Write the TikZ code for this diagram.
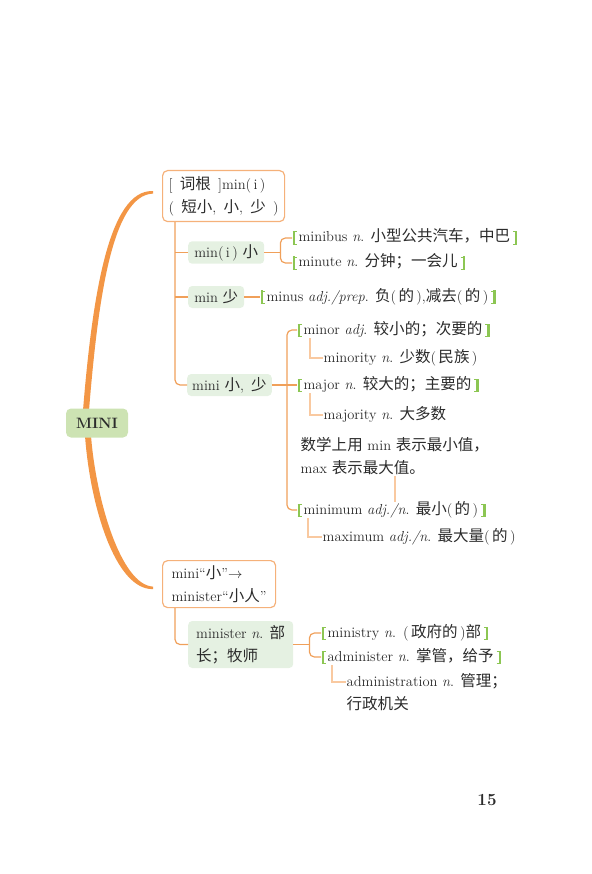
\documentclass[tikz,border=0pt]{standalone}
\usepackage{fontspec}
\usetikzlibrary{calc,backgrounds}
\newfontfamily\cjk[Scale=1.07]{Noto Sans CJK SC}
\newcommand\zh[1]{{\cjk #1}}
\newcommand\zp[1]{(\,\zh{#1}\,)}
\definecolor{orn}{HTML}{F0A05A}
\definecolor{orn2}{HTML}{F39645}
\definecolor{obd}{HTML}{F5B17A}
\definecolor{lorn}{HTML}{F9C9A0}
\definecolor{gfill}{HTML}{E5F1E2}
\definecolor{mfill}{HTML}{CDE3B3}
\definecolor{gbr}{HTML}{8CC653}
\definecolor{txt}{HTML}{2B2B2B}
\newcommand\GL{{\color{gbr}\rule[-2.5pt]{2.3pt}{13pt}\kern-2.3pt\rule[-2.5pt]{4.3pt}{0.9pt}\kern-4.3pt\rule[9.6pt]{4.3pt}{0.9pt}}\kern1.6pt}
\newcommand\GR{\kern3pt{\color{gbr}\rule[-2.5pt]{4.3pt}{0.9pt}\kern-4.3pt\rule[9.6pt]{4.3pt}{0.9pt}\kern-2.3pt\rule[-2.5pt]{2.3pt}{13pt}}}
\begin{document}
\begin{tikzpicture}[x=1pt,y=-1pt,
  every node/.style={text=txt, font=\fontsize{14.5}{23}\selectfont},
  obox/.style={draw=obd, line width=1.2pt, rounded corners=5pt, align=left, anchor=north west, inner xsep=6pt, inner ysep=4pt},
  gbox/.style={fill=gfill, rounded corners=4pt, anchor=west, inner xsep=5pt, inner ysep=3pt, minimum height=22pt},
  item/.style={anchor=west, inner xsep=0.5pt, inner ysep=1pt, text height=11pt, text depth=3pt},
  multi/.style={anchor=north west, align=left, inner xsep=0.5pt, inner ysep=1pt},
  conn/.style={draw=orn, line width=1.2pt, rounded corners=5pt},
  subl/.style={draw=lorn, line width=1.8pt},
  noteline/.style={draw=lorn, line width=1.1pt}]
\useasboundingbox (0,0) rectangle (591,874);

% central node
\node[fill=mfill, rounded corners=5pt, minimum width=62pt, minimum height=29pt, inner sep=0pt,
      font=\fontsize{15}{17}\selectfont\bfseries] (mini) at (97,423) {MINI};

% first root
\node[obox, minimum width=111pt, minimum height=51pt] (root1) at (162,170)
  {[\enspace\zh{词根}\enspace]min(\,i\,)\\(\enspace\zh{短小},\enspace\zh{小},\enspace\zh{少}\enspace)};

\node[gbox, minimum width=76pt] (minbox) at (188,252.5) {min(\,i\,) \zh{小}};
\node[gbox, minimum width=56pt] (minsbox) at (188,297) {min \zh{少}};
\node[gbox, minimum width=83pt] (minibox) at (187,385) {mini \zh{小},\enspace\zh{少}};

\node[item] (minibus) at (292,238) {\GL minibus \textit{n}. \zh{小型公共汽车，中巴}\GR};
\node[item] (minute) at (292,263) {\GL minute \textit{n}. \zh{分钟；一会儿}\GR};
\node[item] (minus) at (260,297) {\GL minus \textit{adj./prep}. \zh{负}\zp{的},\zh{减去}\zp{的}\GR};

\node[item] (minor) at (297,330) {\GL minor \textit{adj}. \zh{较小的；次要的}\GR};
\node[item] (minority) at (323,358) {minority \textit{n}. \zh{少数}\zp{民族}};
\node[item] (major) at (297,385) {\GL major \textit{n}. \zh{较大的；主要的}\GR};
\node[item] (majority) at (323,415) {majority \textit{n}. \zh{大多数}};
\node[multi] (note) at (300,436) {\zh{数学上用} min \zh{表示最小值，}\\max \zh{表示最大值。}};
\node[item] (minimum) at (297,510) {\GL minimum \textit{adj./n}. \zh{最小}\zp{的}\GR};
\node[item] (maximum) at (322,537) {maximum \textit{adj./n}. \zh{最大量}\zp{的}};

% second root
\node[obox, minimum width=113pt, minimum height=47pt] (root2) at (162,560)
  {mini“\zh{小}”$\rightarrow$\\minister“\zh{小人}”};
\node[gbox, minimum width=105pt, minimum height=47pt, align=left] (ministerbox) at (188,644.5)
  {minister \textit{n}. \zh{部}\\\zh{长；牧师}};
\node[item] (ministry) at (321,633) {\GL ministry \textit{n}.\enspace\zp{政府的}\zh{部}\GR};
\node[item] (administer) at (321,657) {\GL administer \textit{n}. \zh{掌管，给予}\GR};
\node[multi] (administration) at (346,672) {administration \textit{n}. \zh{管理；}\\\zh{行政机关}};

% page number
\node[font=\fontsize{17}{20}\selectfont\bfseries] (page) at (487,800) {15};

% tapered main branches
\begin{pgfonlayer}{background}
\fill[orn2] ($(mini.north)+(-14,2)$) .. controls (92,300) and (108,189) .. ($(root1.west)+(-9,-5)$)
  -- ($(root1.west)+(-9,-2.5)$) .. controls (112,195) and (98,300) .. ($(mini.north)+(-8,2)$) -- cycle;
\fill[orn2] ($(mini.south)+(-12,-2)$) .. controls (90,505) and (115,590) .. ($(root2.west)+(-9,5)$)
  -- ($(root2.west)+(-9,2.5)$) .. controls (121,585) and (96,500) .. ($(mini.south)+(-6,-2)$) -- cycle;
\end{pgfonlayer}

% first tree
\coordinate (v1) at ($(root1.south west)+(13,0)$);
\draw[conn] (v1) |- (minibox.west);
\draw[conn] (v1 |- minbox.west) -- (minbox.west);
\draw[conn] (v1 |- minsbox.west) -- (minsbox.west);

\coordinate (f1) at ($(minbox.east)+(16,0)$);
\draw[conn] (minbox.east) -- (f1);
\draw[conn] (minibus.west) -| (f1) |- (minute.west);

\draw[conn] (minsbox.east) -- (minus.west |- minsbox.east);

\coordinate (f2) at ($(minibox.east)+(15,0)$);
\draw[conn] (minor.west) -| (f2) |- (minimum.west);
\draw[conn] (minibox.east) -- (major.west |- minibox.east);

\draw[subl] ($(minor.south west)+(13,0)$) |- (minority.west);
\draw[subl] ($(major.south west)+(13,0)$) |- (majority.west);
\draw[subl] ($(minimum.south west)+(11,0)$) |- (maximum.west);
\coordinate (nc) at ($(note.south west)+(95,0)$);
\draw[noteline] (nc) -- (nc |- minimum.north);

% second tree
\coordinate (v2) at ($(root2.south west)+(13,0)$);
\draw[conn] (v2) |- (ministerbox.west);
\coordinate (f3) at ($(ministerbox.east)+(16,0)$);
\draw[conn] (ministerbox.east) -- (f3);
\draw[conn] (ministry.west) -| (f3) |- (administer.west);
\draw[subl] ($(administer.south west)+(11,0)$) |- ($(administration.north west)+(0,10)$);
\end{tikzpicture}
\end{document}
